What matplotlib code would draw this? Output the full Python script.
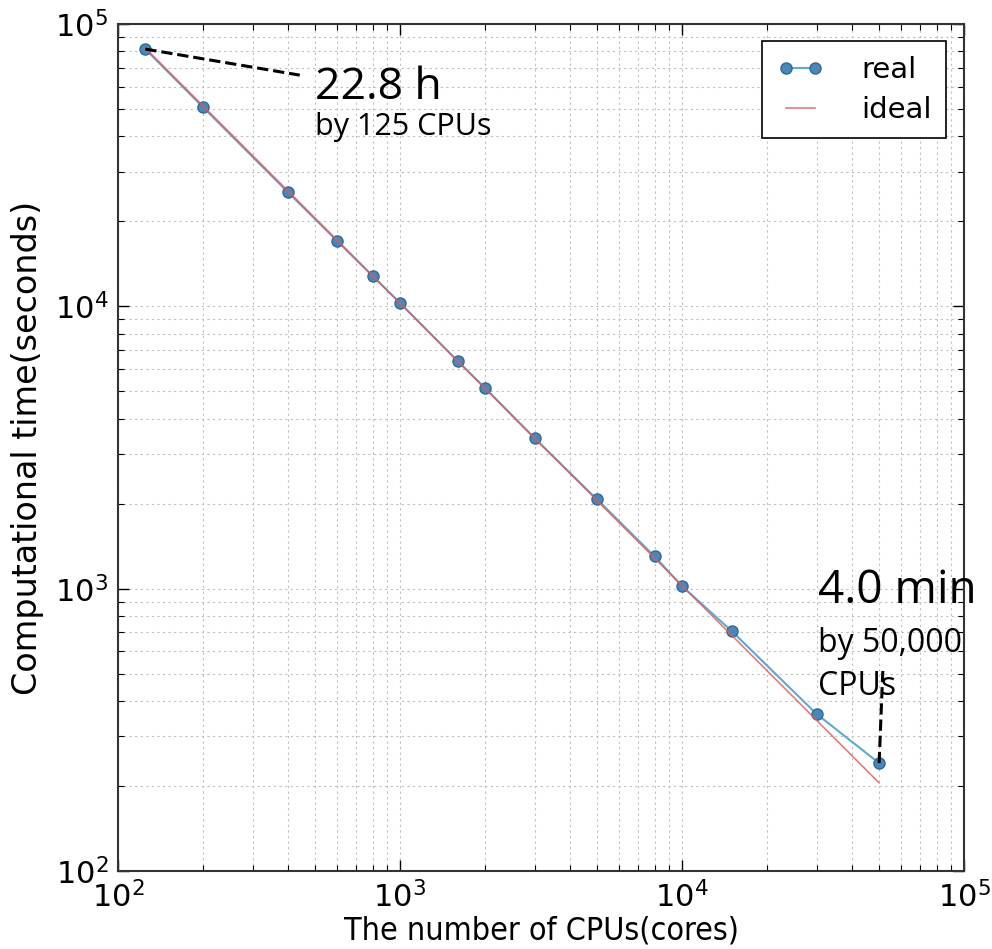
import matplotlib
matplotlib.use("Agg")
import matplotlib.pyplot as plt
import numpy as np

cpus = [125, 200, 400, 600, 800, 1000, 1600, 2000, 3000, 5000, 8000, 10000, 15000, 30000, 50000]
real_time = [81500, 50800, 25400, 17000, 12800, 10280, 6400, 5140, 3410, 2070, 1300, 1020, 708, 360, 241]
ideal_cpus = [125, 50000]
ideal_time = [82080, 205.2]

xlabel = "The number of CPUs(cores)"
ylabel = "Computational time(seconds)"

fig = plt.figure(figsize=(9.92, 9.49), dpi=100)
ax = fig.add_axes([118/992, 1-871/949, (964-118)/992, (871-24)/949])

ax.plot(cpus, real_time, '-o', color='#5aaad8', lw=1.5, ms=8,
        mfc='#4a86b8', mec='#2f6a98', mew=1.0, label='real', zorder=3)
ax.plot(ideal_cpus, ideal_time, '-', color='#e05a5a', lw=1.2, alpha=0.8,
        label='ideal', zorder=4)

ax.set_xscale('log')
ax.set_yscale('log')
ax.set_xlim(1e2, 1e5)
ax.set_ylim(1e2, 1e5)

ax.grid(True, which='both', color='#c0c0c0', linestyle=(0, (2, 3)), lw=0.8)
ax.set_axisbelow(True)
ax.tick_params(which='both', direction='in', top=True, right=True)
ax.tick_params(which='major', length=8, width=1, labelsize=22, pad=7)
ax.tick_params(which='minor', length=4, width=0.8)
for s in ax.spines.values():
    s.set_linewidth(1.5)
    s.set_color('#333333')

ax.set_xlabel(xlabel, fontsize=23, family='DejaVu Sans', stretch='condensed', labelpad=2)
ax.set_ylabel(ylabel, fontsize=24, family='DejaVu Sans', labelpad=8)

leg = ax.legend(loc='upper right', fontsize=21, numpoints=2, fancybox=False,
                handlelength=1.6, borderpad=0.5, labelspacing=0.4,
                handletextpad=1.3, borderaxespad=0.6, framealpha=1)
leg.get_frame().set_edgecolor('black')
leg.get_frame().set_linewidth(1.2)

# annotations
ax.plot([125, 441], [81500, 65900], '--', color='black', lw=2.2, zorder=5)
ax.plot([50000, 51600], [241, 527], '--', color='black', lw=2.2, zorder=5)

afont = 'Open Sans'
ax.text(0.233, 0.912, "22.8 h", transform=ax.transAxes, fontsize=32, family=afont, va='baseline')
ax.text(0.233, 0.869, "by 125 CPUs", transform=ax.transAxes, fontsize=22, family=afont, va='baseline')
ax.text(0.827, 0.316, "4.0 min", transform=ax.transAxes, fontsize=33, family=afont, va='baseline')
ax.text(0.827, 0.259, "by 50,000", transform=ax.transAxes, fontsize=23, family=afont, va='baseline')
ax.text(0.827, 0.208, "CPUs", transform=ax.transAxes, fontsize=23, family=afont, va='baseline')

fig.savefig("out.png", dpi=100)
